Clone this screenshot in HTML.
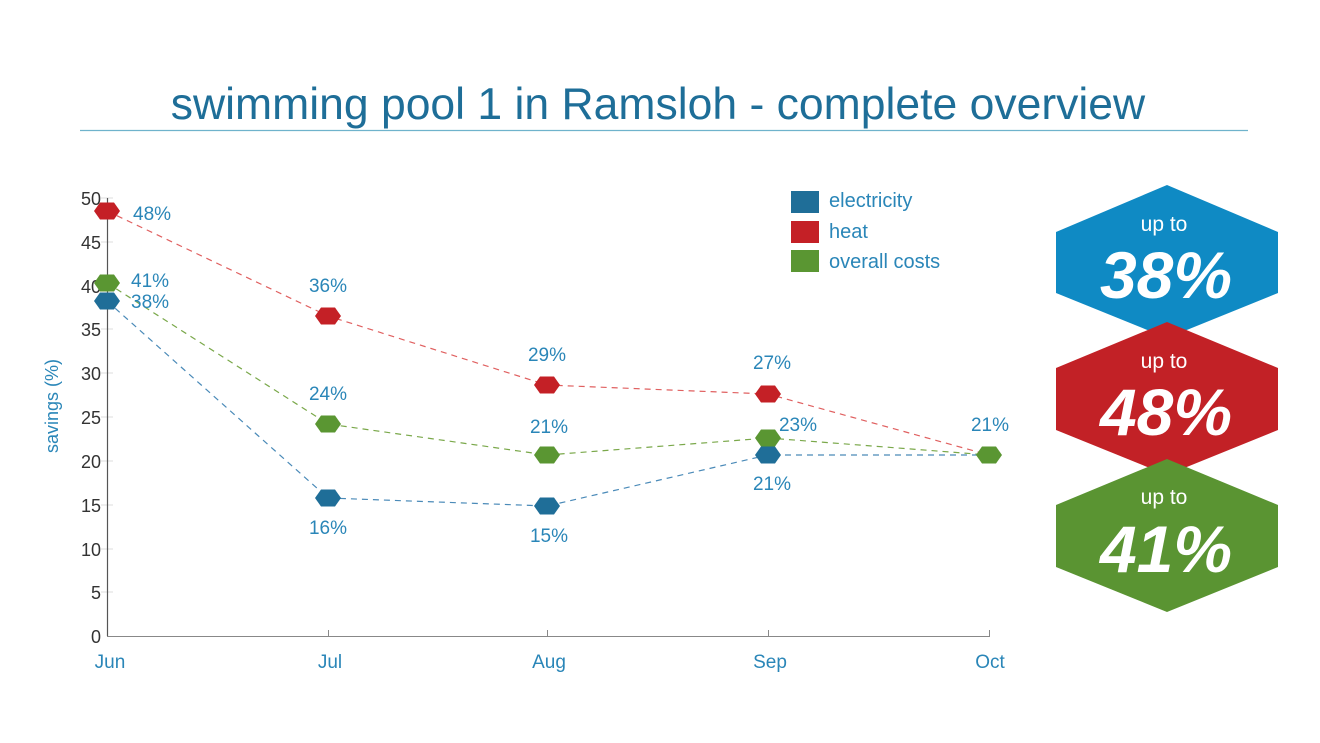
<!DOCTYPE html>
<html><head><meta charset="utf-8"><style>
body{margin:0;background:#fff;}
svg{display:block;font-family:"Liberation Sans",sans-serif;}
</style></head><body>
<svg width="1320" height="743" viewBox="0 0 1320 743">
<text x="658" y="119" text-anchor="middle" font-size="44.5" fill="#1e6e98">swimming pool 1 in Ramsloh - complete overview</text>
<line x1="80" y1="130.5" x2="1248" y2="130.5" stroke="#6fb3cc" stroke-width="1.3"/>
<g stroke="#ddd" stroke-width="1">
<line x1="101" y1="198" x2="113" y2="198"/><line x1="101" y1="242" x2="113" y2="242"/><line x1="101" y1="286" x2="113" y2="286"/><line x1="101" y1="329" x2="113" y2="329"/><line x1="101" y1="373" x2="113" y2="373"/><line x1="101" y1="417" x2="113" y2="417"/><line x1="101" y1="461" x2="113" y2="461"/><line x1="101" y1="505" x2="113" y2="505"/><line x1="101" y1="549" x2="113" y2="549"/><line x1="101" y1="592" x2="113" y2="592"/>
</g>
<line x1="107.5" y1="198" x2="107.5" y2="636" stroke="#555" stroke-width="1.2"/>
<line x1="107" y1="636.5" x2="990" y2="636.5" stroke="#888" stroke-width="1"/>
<g stroke="#888"><line x1="328.5" y1="630" x2="328.5" y2="636"/><line x1="547.5" y1="630" x2="547.5" y2="636"/><line x1="768.5" y1="630" x2="768.5" y2="636"/><line x1="989.5" y1="630" x2="989.5" y2="636"/></g>
<g font-size="18" fill="#333" text-anchor="end">
<text x="101" y="205">50</text><text x="101" y="249">45</text><text x="101" y="293">40</text><text x="101" y="336">35</text><text x="101" y="380">30</text><text x="101" y="424">25</text><text x="101" y="468">20</text><text x="101" y="512">15</text><text x="101" y="556">10</text><text x="101" y="599">5</text><text x="101" y="643">0</text>
</g>
<text transform="translate(58 406) rotate(-90)" text-anchor="middle" font-size="18" fill="#2a86b8">savings (%)</text>
<g font-size="19" fill="#2a86b8" text-anchor="middle">
<text x="110" y="668">Jun</text><text x="330" y="668">Jul</text><text x="549" y="668">Aug</text><text x="770" y="668">Sep</text><text x="990" y="668">Oct</text>
</g>
<g fill="none" stroke-width="1.2" stroke-dasharray="6,5">
<polyline stroke="#e06060" points="107,211 328,316 547,385 768,394 989,455"/>
<polyline stroke="#7aa84a" points="107,283 328,424 547,455 768,438 989,455"/>
<polyline stroke="#4a8ab8" points="107,301 328,498 547,506 768,455 989,455"/>
</g>
<defs><polygon id="hx" points="-13,0 -7,-8.5 7,-8.5 13,0 7,8.5 -7,8.5"/></defs>
<g fill="#c42026"><use href="#hx" x="107" y="211"/><use href="#hx" x="328" y="316"/><use href="#hx" x="547" y="385"/><use href="#hx" x="768" y="394"/></g>
<g fill="#5a9632"><use href="#hx" x="107" y="283"/><use href="#hx" x="328" y="424"/><use href="#hx" x="547" y="455"/><use href="#hx" x="768" y="438"/><use href="#hx" x="989" y="455"/></g>
<g fill="#1f6e98"><use href="#hx" x="107" y="301"/><use href="#hx" x="328" y="498"/><use href="#hx" x="547" y="506"/><use href="#hx" x="768" y="455"/></g>
<g font-size="19" fill="#2a86b8">
<text x="133" y="220">48%</text><text x="131" y="287">41%</text><text x="131" y="308">38%</text>
<text x="328" y="292" text-anchor="middle">36%</text><text x="328" y="400" text-anchor="middle">24%</text><text x="328" y="534" text-anchor="middle">16%</text>
<text x="547" y="361" text-anchor="middle">29%</text><text x="549" y="433" text-anchor="middle">21%</text><text x="549" y="542" text-anchor="middle">15%</text>
<text x="772" y="369" text-anchor="middle">27%</text><text x="798" y="431" text-anchor="middle">23%</text><text x="772" y="490" text-anchor="middle">21%</text>
<text x="990" y="431" text-anchor="middle">21%</text>
</g>
<rect x="791" y="191" width="28" height="22" fill="#1f6e98"/>
<rect x="791" y="221" width="28" height="22" fill="#c42026"/>
<rect x="791" y="250" width="28" height="22" fill="#5a9632"/>
<g font-size="20" fill="#2a86b8"><text x="829" y="207">electricity</text><text x="829" y="238">heat</text><text x="829" y="268">overall costs</text></g>
<polygon points="1167,185 1278,232 1278,293 1167,338 1056,293 1056,232" fill="#0f8ac4"/>
<polygon points="1167,322 1278,368 1278,430 1167,475 1056,430 1056,368" fill="#c22126"/>
<polygon points="1167,459 1278,505 1278,567 1167,612 1056,567 1056,505" fill="#5a9432"/>
<g fill="#fff" text-anchor="middle">
<text x="1164" y="231" font-size="21">up to</text>
<text x="1166" y="298" font-size="66" font-weight="bold" font-style="italic">38%</text>
<text x="1164" y="368" font-size="21">up to</text>
<text x="1166" y="435" font-size="66" font-weight="bold" font-style="italic">48%</text>
<text x="1164" y="504" font-size="21">up to</text>
<text x="1166" y="572" font-size="66" font-weight="bold" font-style="italic">41%</text>
</g>
</svg>
</body></html>
